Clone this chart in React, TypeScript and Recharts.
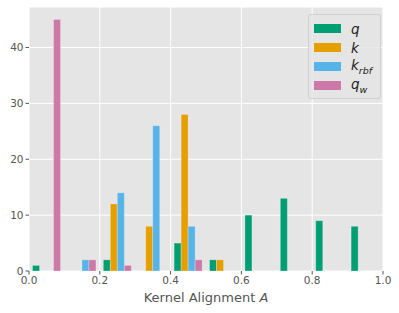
import { BarChart, Bar, XAxis, YAxis, CartesianGrid } from 'recharts';

const bins = ['0.0', '0.1', '0.2', '0.3', '0.4', '0.5', '0.6', '0.7', '0.8', '0.9'];
const binCenters = [0.05, 0.15, 0.25, 0.35, 0.45, 0.55, 0.65, 0.75, 0.85, 0.95];
const qCounts = [1, 0, 2, 0, 5, 2, 10, 13, 9, 8];
const kCounts = [0, 0, 12, 8, 28, 2, 0, 0, 0, 0];
const krbfCounts = [0, 2, 14, 26, 8, 0, 0, 0, 0, 0];
const qwCounts = [45, 2, 1, 0, 2, 0, 0, 0, 0, 0];
const xTicks = [0, 0.2, 0.4, 0.6, 0.8, 1.0];
const yTicks = [0, 10, 20, 30, 40];

const SERIES = [
  { key: 'q', color: '#009E73', base: 'q', sub: '' },
  { key: 'k', color: '#E69F00', base: 'k', sub: '' },
  { key: 'krbf', color: '#56B4E9', base: 'k', sub: 'rbf' },
  { key: 'qw', color: '#CC79A7', base: 'q', sub: 'w' },
];

const data = bins.map((b, i) => ({
  bin: b,
  x: binCenters[i],
  q: qCounts[i],
  k: kCounts[i],
  krbf: krbfCounts[i],
  qw: qwCounts[i],
}));

const FONT = '"DejaVu Sans", sans-serif';

function LegendBox() {
  return (
    <div style={{
      position: 'absolute', left: 308, top: 14,
      background: 'rgba(229,229,229,0.8)', border: '1px solid #d0d0d0', borderRadius: 3,
      padding: '4px 8px 3px 5px', fontFamily: FONT, fontSize: 13.5, color: '#222',
    }}>
      {SERIES.map(s => (
        <div key={s.key} style={{ display: 'flex', alignItems: 'center', height: 19 }}>
          <span style={{ display: 'inline-block', width: 27, height: 9, background: s.color, marginRight: 10 }} />
          <i>{s.base}{s.sub && <sub style={{ fontSize: 9.5 }}>{s.sub}</sub>}</i>
        </div>
      ))}
    </div>
  );
}

function AxisLabel(props: any) {
  const vb = props.viewBox || {};
  const cx = vb.x + vb.width / 2;
  return (
    <text x={cx} y={302} textAnchor="middle" fill="#555" fontSize={13} fontFamily={FONT}>
      Kernel Alignment <tspan fontStyle="italic">A</tspan>
    </text>
  );
}

export default function App() {
  return (
    <div style={{ position: 'relative', width: 399, height: 313 }}>
      <style>{'body{margin:0}'}</style>
      <BarChart width={399} height={313} data={data}
        margin={{ top: 7, right: 16, bottom: 0, left: 0 }}
        barCategoryGap="10%" barGap={0}>
        <CartesianGrid xAxisId="num" fill="#E5E5E5" stroke="#ffffff" strokeWidth={1} />
        <XAxis xAxisId="cat" dataKey="bin" orientation="top" height={0} hide />
        <XAxis xAxisId="num" dataKey="x" type="number" domain={[0, 1]} ticks={xTicks}
          tickFormatter={(v: number) => v.toFixed(1)} height={42}
          axisLine={false} tickLine={{ stroke: '#555' }} tickSize={3.5}
          tick={{ fill: '#555', fontSize: 10.5, fontFamily: FONT }}
          label={<AxisLabel />} />
        <YAxis domain={[0, 47.25]} ticks={yTicks} width={29} axisLine={false}
          tickLine={{ stroke: '#555' }} tickSize={3.5}
          tick={{ fill: '#555', fontSize: 10.5, fontFamily: FONT }} />
        {SERIES.map(s => (
          <Bar key={s.key} xAxisId="cat" dataKey={s.key} fill={s.color}
            stroke="#ffffff" strokeOpacity={0.25} strokeWidth={1} isAnimationActive={false} />
        ))}
      </BarChart>
      <LegendBox />
    </div>
  );
}
